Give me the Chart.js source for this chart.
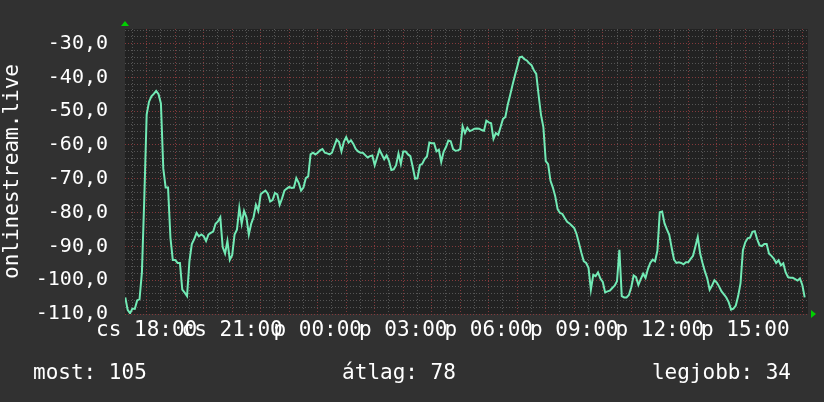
<!DOCTYPE html>
<html>
<head>
<meta charset="utf-8">
<script src="https://cdn.jsdelivr.net/npm/chart.js@4/dist/chart.umd.min.js"></script>
<style>
  html, body { margin: 0; padding: 0; background: #313131; }
  canvas { display: block; }
</style>
</head>
<body>
<canvas id="graph" width="824" height="402"></canvas>
<script>
// 5 perces minták, kezdés 17:15 (cs)
const startHour = 17.25;
const stepHour = 5 / 60;
const values = [
  -105.1, -108.8, -109.8, -108.4, -108.5, -106.0, -105.6, -97.7, -75.8, -51.0,
  -47.2, -45.6, -44.9, -44.0, -45.0, -47.7, -67.0, -72.6, -72.6, -87.4,
  -94.0, -94.0, -94.9, -94.9, -102.8, -103.7, -104.7, -94.4, -89.3, -87.9,
  -86.0, -87.0, -86.5, -87.0, -88.4, -86.5, -86.0, -85.6, -83.3, -82.6,
  -81.4, -90.2, -92.1, -88.4, -94.0, -92.6, -86.5, -85.1, -78.6, -83.3,
  -79.5, -81.4, -86.5, -83.3, -81.4, -77.7, -79.5, -74.6, -74.0, -73.5,
  -74.4, -76.7, -76.3, -74.2, -74.6, -77.7, -75.8, -73.5, -72.9, -72.4,
  -72.7, -72.6, -69.8, -71.2, -73.5, -72.6, -69.8, -69.3, -62.8, -62.3,
  -62.8, -62.3, -61.6, -61.2, -62.3, -62.5, -62.8, -62.3, -60.3, -58.4,
  -59.1, -61.9, -59.1, -57.7, -59.3, -58.6, -59.7, -61.2, -61.9, -62.3,
  -62.3, -63.0, -63.7, -63.3, -63.1, -66.0, -63.7, -61.4, -62.8, -64.2,
  -63.1, -64.7, -67.4, -67.2, -66.0, -62.5, -65.6, -61.9, -61.9, -62.8,
  -63.3, -66.5, -70.0, -69.8, -66.0, -65.6, -64.2, -63.4, -59.3, -59.5,
  -59.5, -61.9, -61.4, -65.0, -62.0, -60.6, -58.7, -58.9, -61.2, -61.7,
  -61.6, -61.2, -54.5, -56.5, -54.9, -55.9, -55.6, -55.2, -55.1, -55.2,
  -55.6, -55.8, -52.8, -53.3, -53.6, -58.2, -56.5, -57.0, -54.7, -52.3,
  -51.7, -48.1, -45.3, -42.3, -39.5, -36.9, -34.1, -33.9, -34.6, -35.0,
  -35.8, -36.4, -37.9, -39.0, -45.3, -51.1, -54.7, -64.8, -65.7, -70.6,
  -72.6, -75.2, -79.0, -80.1, -80.4, -81.6, -82.7, -83.2, -83.9, -84.6,
  -86.4, -89.1, -91.9, -94.4, -94.9, -96.3, -102.8, -98.4, -98.8, -97.7,
  -99.5, -100.5, -103.6, -103.3, -103.1, -102.3, -101.6, -100.3, -91.0, -104.7,
  -105.1, -105.1, -104.4, -102.1, -98.6, -99.1, -101.4, -99.7, -98.1, -99.3,
  -96.7, -94.9, -93.9, -94.4, -91.3, -79.9, -79.7, -83.2, -85.0, -86.6,
  -90.4, -93.9, -94.9, -94.7, -94.9, -95.3, -94.7, -94.7, -93.7, -92.8,
  -90.0, -87.2, -92.1, -94.9, -97.4, -99.5, -102.8, -101.6, -100.0, -100.7,
  -101.9, -103.3, -104.2, -105.1, -106.5, -108.7, -108.4, -107.5, -104.7, -100.9,
  -91.1, -88.8, -87.6, -87.4, -85.7, -85.5, -87.9, -89.7, -89.9, -89.3,
  -89.3, -92.2, -92.8, -93.6, -94.9, -94.1, -95.6, -95.0, -97.7, -99.1,
  -99.3, -99.3, -99.7, -100.1, -99.5, -101.4, -105.1
];
const dayNames = ['cs', 'p'];
const legendTexts = ['most: 105', 'átlag: 78', 'legjobb: 34'];
const axisTitle = 'onlinestream.live';

const points = values.map((v, i) => ({ x: startHour + i * stepHour, y: v }));

const bgOuter = '#313131';
const bgPlot = '#222222';
const gridMajor = '#83393b';
const gridMinor = '#555555';
const font = 'DejaVu Sans Mono';

const rrdLook = {
  id: 'rrdLook',
  beforeDraw(chart) {
    const { ctx, chartArea: a } = chart;
    ctx.save();
    ctx.fillStyle = bgOuter;
    ctx.fillRect(0, 0, chart.width, chart.height);
    ctx.fillStyle = bgPlot;
    ctx.fillRect(a.left, a.top, a.right - a.left, a.bottom - a.top);
    ctx.restore();
  },
  afterDraw(chart) {
    const { ctx, chartArea: a } = chart;
    ctx.save();
    // nyilak
    ctx.fillStyle = '#00d000';
    ctx.beginPath();
    ctx.moveTo(a.left - 4, a.top - 3);
    ctx.lineTo(a.left + 4, a.top - 3);
    ctx.lineTo(a.left, a.top - 8);
    ctx.closePath();
    ctx.fill();
    ctx.beginPath();
    ctx.moveTo(a.right + 3, a.bottom - 4);
    ctx.lineTo(a.right + 3, a.bottom + 4);
    ctx.lineTo(a.right + 8, a.bottom);
    ctx.closePath();
    ctx.fill();
    // lábléc
    ctx.fillStyle = '#ffffff';
    ctx.font = '21px "' + font + '"';
    ctx.textBaseline = 'middle';
    ctx.textAlign = 'left';
    ctx.fillText(legendTexts[0], 33, 374);
    ctx.textAlign = 'center';
    ctx.fillText(legendTexts[1], 399, 374);
    ctx.textAlign = 'right';
    ctx.fillText(legendTexts[2], 791, 374);
    ctx.restore();
  }
};

new Chart(document.getElementById('graph'), {
  type: 'line',
  data: {
    datasets: [{
      data: points,
      borderColor: '#72eab5',
      borderWidth: 2,
      pointRadius: 0,
      tension: 0,
      fill: false
    }]
  },
  options: {
    responsive: false,
    animation: false,
    layout: { padding: { top: 13, right: 16, left: 0, bottom: 0 } },
    plugins: { legend: { display: false }, tooltip: { enabled: false } },
    scales: {
      x: {
        type: 'linear',
        min: 17.24,
        max: 41.2,
        afterFit: s => { s.height = 88; },
        afterBuildTicks: s => {
          const t = [];
          for (let h = 17.5; h <= 41; h += 0.5) t.push({ value: h });
          s.ticks = t;
        },
        border: { display: false, dash: [1, 2] },
        grid: {
          drawTicks: false,
          color: c => Number.isInteger(c.tick.value) ? gridMajor : gridMinor
        },
        ticks: {
          autoSkip: false,
          maxRotation: 0,
          padding: 4,
          color: '#ffffff',
          font: { family: font, size: 21 },
          callback: v => {
            if (!Number.isInteger(v) || v % 3 !== 0) return '';
            const h = v % 24;
            return dayNames[v < 24 ? 0 : 1] + ' ' + String(h).padStart(2, '0') + ':00';
          }
        }
      },
      y: {
        min: -110,
        max: -25.7,
        afterFit: s => { s.width = 125; },
        afterBuildTicks: s => {
          const t = [];
          for (let v = -110; v <= -26; v += 2) t.push({ value: v });
          s.ticks = t;
        },
        border: { display: false, dash: [1, 2] },
        grid: {
          drawTicks: false,
          color: c => c.tick.value % 10 === 0 ? gridMajor : gridMinor
        },
        title: {
          display: true,
          text: axisTitle,
          color: '#ffffff',
          padding: 0,
          font: { family: font, size: 21 }
        },
        ticks: {
          autoSkip: false,
          padding: 17,
          color: '#ffffff',
          font: { family: font, size: 20 },
          callback: v => v % 10 === 0 ? v.toFixed(1).replace('.', ',') : ''
        }
      }
    }
  },
  plugins: [rrdLook]
});
</script>
</body>
</html>
